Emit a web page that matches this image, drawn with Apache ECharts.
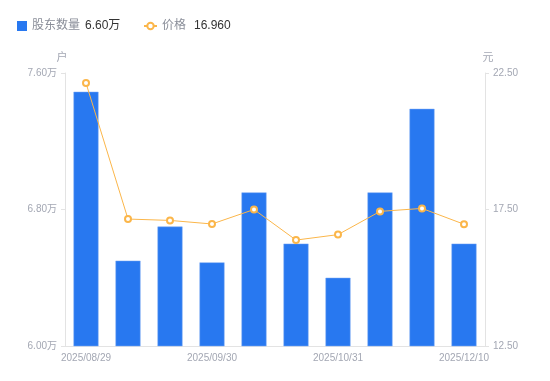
<!DOCTYPE html>
<html><head><meta charset="utf-8">
<script src="https://cdn.jsdelivr.net/npm/echarts@6/dist/echarts.min.js"></script>
<style>html,body{margin:0;padding:0;background:#fff}#c{width:550px;height:381px}</style>
</head><body><div id="c"></div>
<script>
const categories = ['2025/08/29','2025/09/10','2025/09/19','2025/09/30','2025/10/10','2025/10/20','2025/10/31','2025/11/10','2025/11/28','2025/12/10'];
const holders = [74900, 65000, 67000, 64900, 69000, 66000, 64000, 69000, 73900, 66000];
const prices = [22.13, 17.15, 17.10, 16.97, 17.50, 16.38, 16.58, 17.43, 17.54, 16.96];
const leftTicks = [60000, 76000, 8000];
const rightTicks = [12.5, 22.5, 5];

const axisLabelColor = '#a3a7b3';
const FONT = "'Liberation Sans', 'Noto Sans CJK SC', sans-serif";
const chart = echarts.init(document.getElementById('c'));
const lastH = holders[holders.length-1];
const lastP = prices[prices.length-1];
const legendFmt = function(n){
  if(n==='股东数量') return '{a|'+n+'}{b|'+(lastH/10000).toFixed(2)+'万}';
  return '{a|'+n+'}{b|'+lastP.toFixed(3)+'}';
};
const mkText = pad => ({fontFamily: FONT, rich: {a:{color:'#8a8e99', fontSize:12, fontFamily: FONT, padding:[0,pad,0,0]}, b:{color:'#333', fontSize:12, fontFamily: FONT}}});
chart.setOption({
  animation: false,
  textStyle: {fontFamily: FONT},
  legend: [{
    left: 12, top: 15, itemWidth: 10, itemHeight: 10,
    data: [{name:'股东数量', icon:'rect', itemStyle:{borderWidth:0}}],
    formatter: legendFmt, textStyle: mkText(5)
  }, {
    left: 138, top: 15, itemWidth: 13, itemHeight: 8,
    data: [{name:'价格'}],
    formatter: legendFmt, textStyle: mkText(8)
  }],
  grid: {left: 65, right: 65, top: 73, bottom: 35},
  xAxis: {
    type: 'category', data: categories,
    axisLine: {lineStyle: {color: '#e3e3e3'}},
    axisTick: {show: false},
    axisLabel: {color: axisLabelColor, fontSize: 10, interval: 2, margin: 7}
  },
  yAxis: [{
    type: 'value', name: '户', min: leftTicks[0], max: leftTicks[1], interval: leftTicks[2],
    nameTextStyle: {color: axisLabelColor, fontSize: 11, padding:[0,6,0,0]}, nameGap: 10,
    axisLine: {show: true, lineStyle: {color: '#e3e3e3'}},
    axisTick: {show: true, length: 4, lineStyle: {color: '#e3e3e3'}},
    splitLine: {show: false},
    axisLabel: {color: axisLabelColor, fontSize: 10, margin: 8, formatter: v => (v/10000).toFixed(2)+'万'}
  }, {
    type: 'value', name: '元', min: rightTicks[0], max: rightTicks[1], interval: rightTicks[2],
    nameTextStyle: {color: axisLabelColor, fontSize: 11, padding:[0,0,0,6]}, nameGap: 10,
    axisLine: {show: true, lineStyle: {color: '#e3e3e3'}},
    axisTick: {show: true, length: 4, lineStyle: {color: '#e3e3e3'}},
    splitLine: {show: false},
    axisLabel: {color: axisLabelColor, fontSize: 10, margin: 8, formatter: v => v.toFixed(2)}
  }],
  series: [{
    name: '股东数量', type: 'bar', data: holders, barWidth: 25,
    itemStyle: {color: '#2878f0', borderColor: '#7aa9f5', borderWidth: 0.5}
  }, {
    name: '价格', type: 'line', yAxisIndex: 1, data: prices,
    symbol: 'emptyCircle', symbolSize: 6,
    lineStyle: {color: '#fbb64a', width: 1},
    itemStyle: {color: '#fbb64a', borderWidth: 2}
  }]
});
</script></body></html>
